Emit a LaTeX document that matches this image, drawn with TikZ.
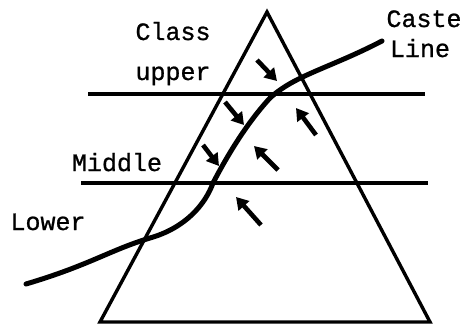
\documentclass[tikz,border=0pt]{standalone}
\usepackage{fontspec}
\setmonofont[FakeBold=0.9]{Liberation Mono}
\usetikzlibrary{arrows.meta,positioning}

\begin{document}
\begin{tikzpicture}[
  x=1pt,y=-1pt,
  label/.style={
    font=\ttfamily\fontsize{25}{27}\selectfont,
    inner sep=0pt,
    anchor=base
  },
  edge/.style={line width=3.4pt,line cap=round,line join=miter},
  level/.style={line width=3.4pt},
  caste/.style={line width=5pt,line cap=round},
  push/.style={line width=4.6pt,-{Triangle[length=12pt,width=14pt]}}
]
  \useasboundingbox (0,0) rectangle (466,327);
  % pyramid
  \coordinate (apex) at (267,12);
  \coordinate (baseL) at (100,322);
  \coordinate (baseR) at (430,322);
  \draw[edge] (apex) -- (baseL) -- (baseR) -- cycle;
  % strata
  \coordinate (upL) at (88,94);
  \coordinate (upR) at (425,94);
  \coordinate (midL) at (81,183);
  \coordinate (midR) at (428,183);
  \draw[level] (upL) -- (upR);
  \draw[level] (midL) -- (midR);
  % caste line
  \coordinate (casteA) at (26,284);
  \coordinate (casteB) at (382,41);
  \draw[caste] (casteA)
    .. controls (90,265) and (110,250) .. (150,238)
    .. controls (185,228) and (205,205) .. (213,183)
    .. controls (225,160) and (245,125) .. (270,98)
    .. controls (295,75) and (330,68) .. (casteB);
  % pressure arrows
  \foreach \tail/\tip in {{257,60}/{277,81},{225,102}/{244,125},
                          {203,145}/{219,166},{316,135}/{296,108},
                          {278,170}/{254,146},{261,225}/{236,197}}
    \draw[push] (\tail) -- (\tip);
  % labels
  \node[label] (class) at (173,40) {Class};
  \node[label] (upper) at (173,80) {upper};
  \node[label] (middle) at (117,171) {Middle};
  \node[label] (lower) at (48,230) {Lower};
  \node[label] (caste) at (424,27) {Caste};
  \node[label] (line) at (420,57) {Line};
\end{tikzpicture}
\end{document}
